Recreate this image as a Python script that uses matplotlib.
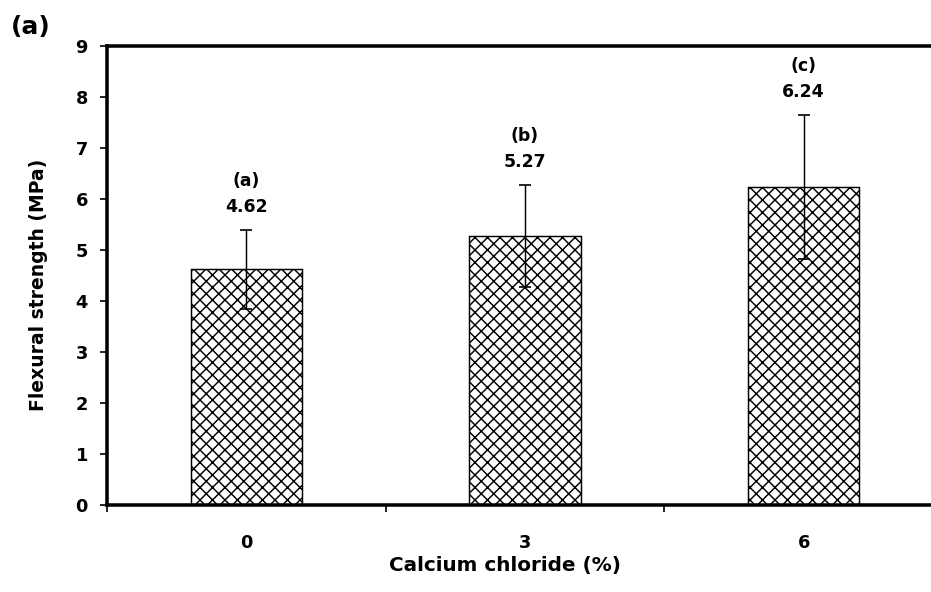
import matplotlib.pyplot as plt
import numpy as np

# Data
categories = ['0', '3', '6']
strength = [4.62, 5.27, 6.24]
errors = [0.77, 1.00, 1.41]
groups = ['(a)', '(b)', '(c)']

DPI = 150
# the original text is wide, DejaVu Sans Bold gets close to its proportions
plt.rcParams['font.family'] = ['DejaVu Sans']
plt.rcParams['font.weight'] = 'bold'
plt.rcParams['hatch.linewidth'] = 0.7
plt.rcParams['hatch.color'] = 'black'

fig = plt.figure(figsize=(931 / DPI, 592 / DPI), dpi=DPI)
# axes run a bit past the right edge, like the original
ax = fig.add_axes([107 / 931, 87 / 592, 836 / 931, 459 / 592])

x = np.arange(len(categories))
ax.bar(x, strength, width=0.4, color='white', edgecolor='black',
       linewidth=0.7, hatch='xxxx', zorder=2)
ax.errorbar(x, strength, yerr=errors, fmt='none', ecolor='black',
            elinewidth=0.7, capsize=2.9, capthick=0.8, zorder=3)

# value and group labels above the error bars
for i in range(len(x)):
    top = strength[i] + errors[i]
    ax.annotate(f'{strength[i]:.2f}', (x[i], top), xytext=(0, 11),
                textcoords='offset points', ha='center', va='center',
                fontsize=8.3, fontweight='bold')
    ax.annotate(groups[i], (x[i], top), xytext=(0, 23.5),
                textcoords='offset points', ha='center', va='center',
                fontsize=8.3, fontweight='bold')

ax.set_xlim(-0.5, 2.5)
ax.set_ylim(0, 9)
ax.set_yticks(range(0, 10))
ax.set_xticks(x)
ax.set_xticklabels(categories)
ax.set_xticks([-0.5, 0.5, 1.5, 2.5], minor=True)

ax.tick_params(axis='y', direction='out', length=3.4, width=0.8,
               labelsize=8.5, pad=5.8)
ax.tick_params(axis='x', which='major', length=0, labelsize=8.5, pad=14)
ax.tick_params(axis='x', which='minor', direction='out', length=3.4, width=0.8)

for side in ['left', 'bottom', 'top']:
    ax.spines[side].set_linewidth(1.7)
ax.spines['right'].set_visible(False)

ax.set_ylabel('Flexural strength (MPa)', fontsize=9, fontweight='bold')
ax.yaxis.label.set_va('center')
ax.yaxis.set_label_coords(-0.0825, 0.48)
ax.set_xlabel('Calcium chloride (%)', fontsize=9.6, fontweight='bold')
ax.xaxis.label.set_va('center')
ax.xaxis.set_label_coords(0.476, -0.131)

fig.text(31 / 931, 1 - 27 / 592, '(a)', ha='center', va='center',
         fontsize=12, fontweight='bold')

plt.savefig('out.png', dpi=DPI)
